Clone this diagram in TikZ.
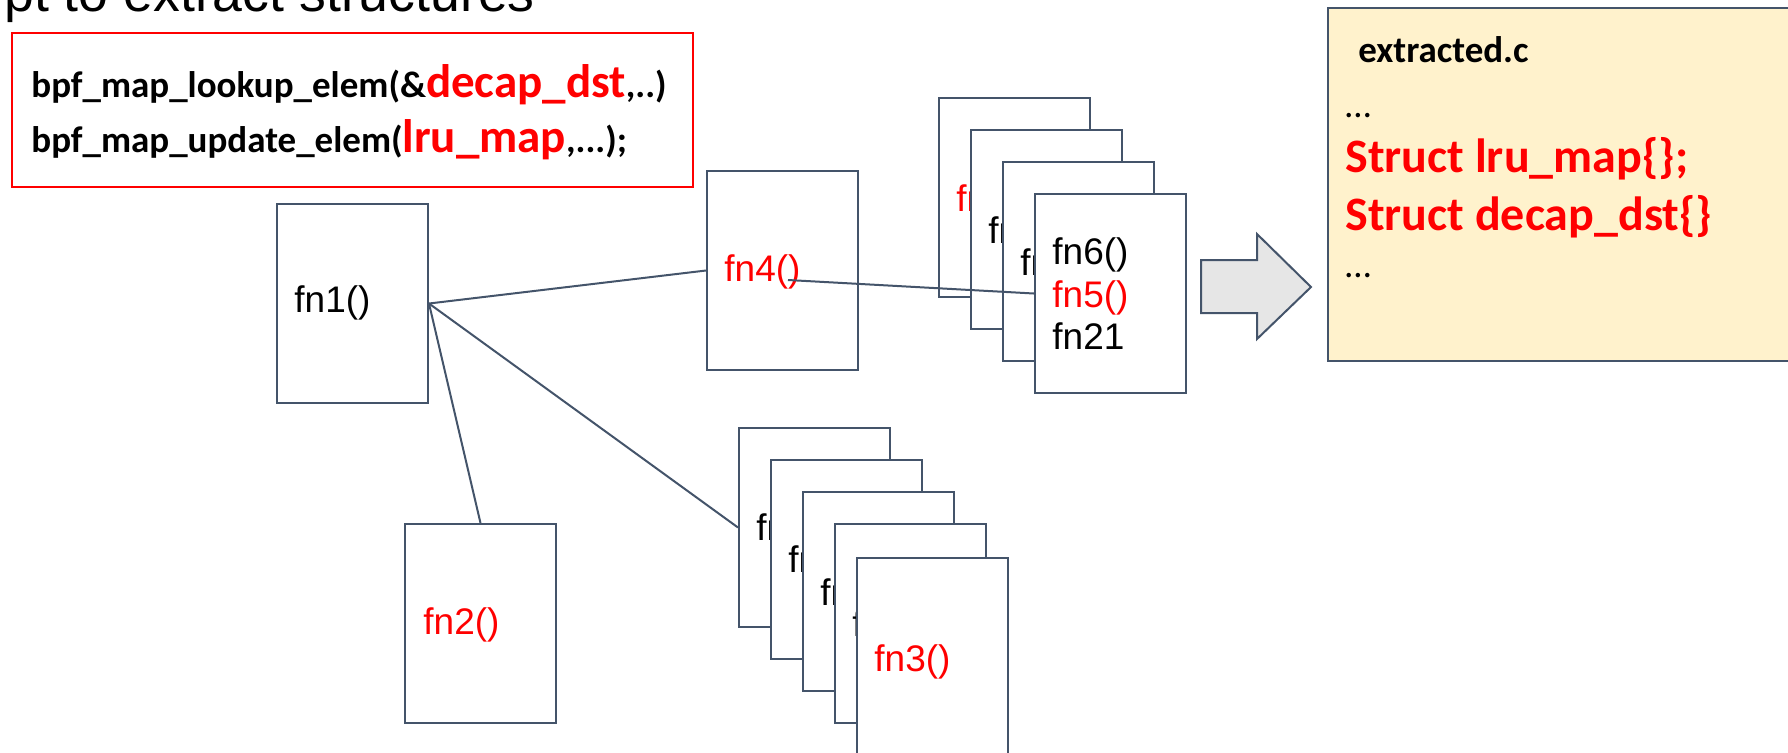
\documentclass[tikz,border=0pt]{standalone}
\usepackage{fontspec}
\setmainfont{Liberation Sans}
\newfontfamily\calib{Carlito}
\definecolor{slate}{HTML}{44546A}
\definecolor{pyellow}{HTML}{FFF2CC}
\definecolor{agray}{HTML}{E6E6E6}
\definecolor{pred}{HTML}{FF0000}
\begin{document}
\begin{tikzpicture}[x=0.5pt,y=-0.5pt,
  fnbox/.style={draw=slate, line width=1pt, fill=white, minimum width=75.5pt, minimum height=99.5pt, inner sep=0pt, anchor=north west},
  fntext/.style={font=\fontsize{18.5}{21.25}\selectfont, anchor=west, inner sep=0pt, align=left},
  redtext/.style={text=pred},
  conn/.style={draw=slate, line width=1pt},
  codeline/.style={anchor=base west, inner sep=0pt, font=\calib\bfseries\fontsize{18.5}{22}\selectfont}
]
\useasboundingbox (0,0) rectangle (1788,752);
\clip (0,0) rectangle (1788,752);

% title (cut off at top)
\node[anchor=base west, inner sep=0pt, font=\fontsize{26.8}{30}\selectfont] (title) at (4,11) {pt to extract structures};

% red code box
\node[draw=pred, line width=1pt, minimum width=340.5pt, minimum height=77pt, anchor=north west, inner sep=0pt] (redbox) at (11,32) {};
\node[codeline] (call1) at (31,97) {bpf\_map\_lookup\_elem(\&{\fontsize{23.5}{28}\selectfont\color{pred}decap\_dst},..)};
\node[codeline] (call2) at (31,152) {bpf\_map\_update\_elem({\fontsize{23.5}{28}\selectfont\color{pred}lru\_map},...);};

% fn1, fn4, fn2
\node[fnbox] (fn1) at (276,203) {};
\node[fntext] (fn1t) at (294,303) {fn1()};
\node[fnbox] (fn4) at (706,170) {};
\node[fntext, redtext] (fn4t) at (724,272) {fn4()};
\node[fnbox] (fn2) at (404,523) {};
\node[fntext, redtext] (fn2t) at (423,625) {fn2()};

% upper stack
\node[fnbox] (s1) at (938,97) {};
\node[fntext, redtext] (s1t) at (956,198) {fn};
\node[fnbox] (s2) at (970,129) {};
\node[fntext] (s2t) at (988,230) {fn};
\node[fnbox] (s3) at (1002,161) {};
\node[fntext] (s3t) at (1020,262) {fn};
\node[fnbox] (s4) at (1034,193) {};
\node[fntext] (s4t) at (1052,294) {fn6()\\\textcolor{pred}{fn5()}\\fn21};

% lower stack
\node[fnbox] (t1) at (738,427) {};
\node[fntext] (t1t) at (756,527) {fn};
\node[fnbox] (t2) at (770,459) {};
\node[fntext] (t2t) at (788,559) {fn};
\node[fnbox] (t3) at (802,491) {};
\node[fntext] (t3t) at (820,592) {fn};
\node[fnbox] (t4) at (834,523) {};
\node[fntext] (t4t) at (852,623) {fn};
\node[fnbox] (t5) at (856,557) {};
\node[fntext, redtext] (t5t) at (874,662) {fn3()};

% connectors
\coordinate (fn4src) at (788,280);
\draw[conn] (fn1.east) -- (fn4.west);
\draw[conn] (fn1.east) -- (fn2.north);
\draw[conn] (fn1.east) -- (t1.west);
\draw[conn] (fn4src) -- (s4.west);

% block arrow
\draw[draw=slate, fill=agray, line width=1pt, line join=miter]
  (1201,260) -- (1257,260) -- (1257,234) -- (1311,287) -- (1257,339) -- (1257,313) -- (1201,313) -- cycle;

% extracted.c box
\node[draw=slate, fill=pyellow, line width=1pt, minimum width=236.5pt, minimum height=176.5pt, anchor=north west, inner sep=0pt] (extracted) at (1327,7) {};
\node[anchor=base west, inner sep=0pt, font=\calib\bfseries\fontsize{18.5}{22}\selectfont] (fname) at (1358,62) {extracted.c};
\node[anchor=base west, inner sep=0pt, font=\calib\fontsize{18.5}{22}\selectfont] (dots1) at (1345,117) {…};
\node[anchor=base west, inner sep=0pt, text=pred, font=\calib\bfseries\fontsize{24}{28}\selectfont] (st1) at (1345,172) {Struct lru\_map\{\};};
\node[anchor=base west, inner sep=0pt, text=pred, font=\calib\bfseries\fontsize{24}{28}\selectfont] (st2) at (1345,230) {Struct decap\_dst\{\}};
\node[anchor=base west, inner sep=0pt, font=\calib\fontsize{18.5}{22}\selectfont] (dots2) at (1345,277) {…};
\end{tikzpicture}
\end{document}
